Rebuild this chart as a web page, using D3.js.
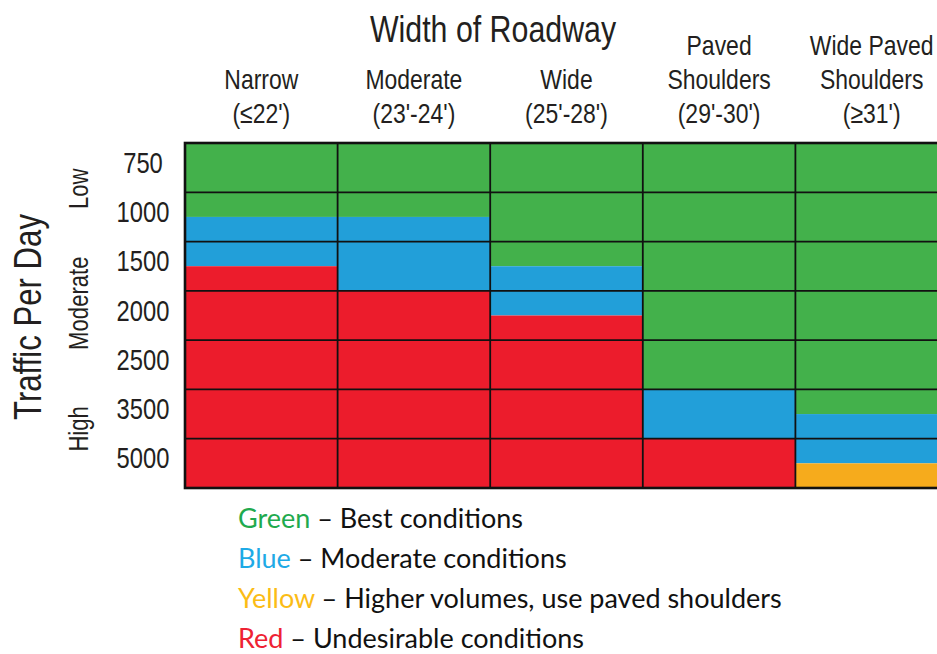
<!DOCTYPE html>
<html>
<head>
<meta charset="utf-8">
<script src="https://cdn.jsdelivr.net/npm/d3@7/dist/d3.min.js"></script>
<style>
  html, body { margin: 0; padding: 0; background: #ffffff; }
  svg { display: block; }
</style>
</head>
<body>
<div id="chart"></div>
<script>
// ---------- DATA ----------
const rowLabels = ["750", "1000", "1500", "2000", "2500", "3500", "5000"];
const trafficGroups = ["Low", "Moderate", "High"];
const trafficGroupCenters = [0.93, 3.25, 5.8];   // in row units
const columnKeys = ["narrow", "moderate", "wide", "paved", "widePaved"];
const columnLabels = [
  ["Narrow", "(≤22')"],
  ["Moderate", "(23'-24')"],
  ["Wide", "(25'-28')"],
  ["Paved", "Shoulders", "(29'-30')"],
  ["Wide Paved", "Shoulders", "(≥31')"]
];
// extent of each condition in each column, in rows (top to bottom)
const greenRows  = [1.5, 1.5, 2.5, 5.0, 5.5];
const blueRows   = [1.0, 1.5, 1.0, 1.0, 1.0];
const yellowRows = [0.0, 0.0, 0.0, 0.0, 0.5];
const redRows    = [4.5, 4.0, 3.5, 1.0, 0.0];
const conditionKeys = ["green", "blue", "yellow", "red"];
const legendNames = ["Green", "Blue", "Yellow", "Red"];
const legendTexts = ["Best conditions", "Moderate conditions", "Higher volumes, use paved shoulders", "Undesirable conditions"];

// ---------- STYLE ----------
const W = 937, H = 654;
const fillColors = { green: "#43b14b", blue: "#229fd9", yellow: "#f6ab1c", red: "#ec1c2c" };
const legendColors = { green: "#1faa4e", blue: "#1eaae6", yellow: "#fbbc16", red: "#ee2233" };
const ink = "#231f20";
const condensed = "'Liberation Sans', Arial, Helvetica, sans-serif";
const squeeze = 0.82;

const svg = d3.select("#chart").append("svg").attr("width", W).attr("height", H);

const table = columnKeys.map((k, i) => ({
  key: k, green: greenRows[i], blue: blueRows[i], yellow: yellowRows[i], red: redRows[i]
}));
const stacked = d3.stack().keys(conditionKeys)(table);

const x = d3.scaleBand().domain(columnKeys).range([185, 948]).paddingInner(0).paddingOuter(0);
const y = d3.scaleLinear().domain([0, rowLabels.length]).range([143, 488]);

// cells
svg.append("g").selectAll("g").data(stacked).join("g")
  .attr("fill", d => fillColors[d.key])
  .selectAll("rect").data(d => d).join("rect")
  .attr("x", d => x(d.data.key))
  .attr("width", x.bandwidth())
  .attr("y", d => y(d[0]))
  .attr("height", d => y(d[1]) - y(d[0]));

// grid lines
const grid = svg.append("g").attr("stroke", "#111").attr("stroke-width", 1.8);
grid.selectAll("line.h").data(d3.range(1, rowLabels.length)).join("line")
  .attr("x1", x.range()[0]).attr("x2", x.range()[1])
  .attr("y1", d => y(d)).attr("y2", d => y(d));
grid.selectAll("line.v").data(columnKeys.slice(1)).join("line")
  .attr("y1", y(0)).attr("y2", y(rowLabels.length))
  .attr("x1", d => x(d)).attr("x2", d => x(d));
svg.append("rect")
  .attr("x", x.range()[0]).attr("y", y(0))
  .attr("width", x.range()[1] - x.range()[0])
  .attr("height", y(rowLabels.length) - y(0))
  .attr("fill", "none").attr("stroke", "#111").attr("stroke-width", 2.6);

// helper for condensed text
function ctext(g, str, tx, ty, size, rotate) {
  const t = g.append("text")
    .attr("transform", `translate(${tx},${ty})` + (rotate ? ` rotate(${rotate})` : "") + ` scale(${squeeze},1)`)
    .attr("text-anchor", "middle")
    .attr("font-family", condensed)
    .attr("font-size", size)
    .attr("fill", ink)
    .text(str);
  return t;
}

// title
const head = svg.append("g");
ctext(head, "Width of Roadway", 493, 42, 37);

// column labels (bottom aligned)
columnLabels.forEach((lines, i) => {
  const cx = x(columnKeys[i]) + x.bandwidth() / 2;
  lines.forEach((ln, j) => {
    const fromBottom = lines.length - 1 - j;
    ctext(head, ln, cx, 123 - fromBottom * 34, 28);
  });
});

// row labels
const rowG = svg.append("g");
rowLabels.forEach((lab, i) => {
  ctext(rowG, lab, 143, y(i + 0.5) + 5, 29);
});

// traffic groups (rotated)
trafficGroups.forEach((g, i) => {
  ctext(rowG, g, 88, y(trafficGroupCenters[i]), 27, -90);
});
ctext(rowG, "Traffic Per Day", 41, 317, 38, -90);

// legend
const leg = svg.append("g").attr("font-family", "Lato, 'Open Sans', sans-serif").attr("font-size", 27);
conditionKeys.forEach((k, i) => {
  const t = leg.append("text").attr("x", 238).attr("y", 528 + i * 40);
  t.append("tspan").attr("fill", legendColors[k]).text(legendNames[i]);
  t.append("tspan").attr("fill", "#111").text(" \u2013 " + legendTexts[i]);
});
</script>
</body>
</html>
